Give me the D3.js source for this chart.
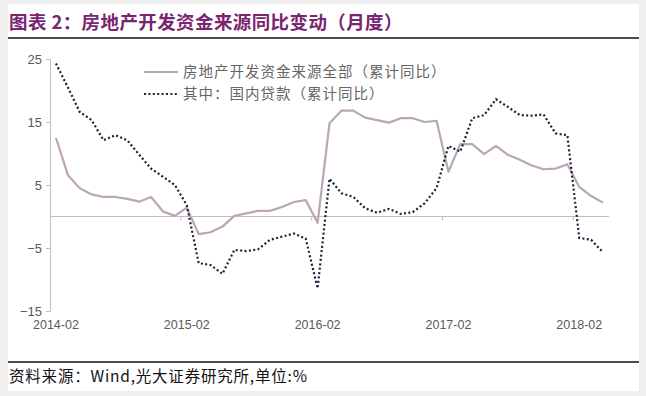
<!DOCTYPE html>
<html>
<head>
<meta charset="utf-8">
<script src="https://cdn.jsdelivr.net/npm/d3@7"></script>
<style>
  body { margin: 0; background: #efefef; }
  svg { display: block; }
</style>
</head>
<body>
<svg id="chart" width="646" height="396"></svg>
<script>
// categories: cumulative data, no January
var months = [
  "2014-02","2014-03","2014-04","2014-05","2014-06","2014-07","2014-08","2014-09","2014-10","2014-11","2014-12",
  "2015-02","2015-03","2015-04","2015-05","2015-06","2015-07","2015-08","2015-09","2015-10","2015-11","2015-12",
  "2016-02","2016-03","2016-04","2016-05","2016-06","2016-07","2016-08","2016-09","2016-10","2016-11","2016-12",
  "2017-02","2017-03","2017-04","2017-05","2017-06","2017-07","2017-08","2017-09","2017-10","2017-11","2017-12",
  "2018-02","2018-03","2018-04"
];

var totalFunds = [12.5, 6.6, 4.5, 3.5, 3.1, 3.1, 2.8, 2.35, 3.1, 0.8, 0.1,
  1.4, -2.8, -2.5, -1.6, 0.1, 0.5, 0.9, 0.9, 1.5, 2.3, 2.6,
  -1.0, 14.8, 16.8, 16.8, 15.7, 15.3, 14.9, 15.6, 15.6, 15.0, 15.2,
  7.1, 11.5, 11.5, 9.9, 11.2, 9.8, 9.0, 8.1, 7.5, 7.6, 8.3,
  4.7, 3.25, 2.2];

var domesticLoans = [24.3, 20.5, 16.6, 15.3, 12.1, 12.9, 12.1, 9.8, 7.6, 6.3, 5.0,
  1.8, -7.4, -7.7, -9.1, -5.3, -5.5, -5.2, -3.7, -3.2, -2.7, -3.5,
  -11.4, 6.0, 3.7, 3.1, 1.3, 0.6, 1.2, 0.4, 0.7, 2.1, 4.5,
  11.2, 10.3, 15.6, 16.1, 18.6, 17.4, 16.1, 16.0, 16.2, 13.2, 12.9,
  -3.4, -3.7, -5.7];

var yTicks = [25, 15, 5, -5, -15];
var xLabels = ["2014-02", "2015-02", "2016-02", "2017-02", "2018-02"];

var seriesNames = ["房地产开发资金来源全部（累计同比）", "其中：国内贷款（累计同比）"];
var titleText = "图表 2：房地产开发资金来源同比变动（月度）";
var sourceText = "资料来源：Wind,光大证券研究所,单位:%";

var svg = d3.select("#chart");
var cjk = "'Noto Sans CJK SC', sans-serif",
    latin = "'Liberation Sans', Arial, sans-serif";

// white panel
svg.append("rect")
  .attr("x", 8).attr("y", 4)
  .attr("width", 631).attr("height", 387)
  .attr("fill", "#ffffff");

// title
svg.append("text")
  .attr("x", 9).attr("y", 29)
  .attr("font-family", cjk)
  .attr("font-size", "18.5px")
  .attr("font-weight", "bold")
  .attr("letter-spacing", "0.4px")
  .attr("fill", "#7a2472")
  .text(titleText);

svg.append("line")
  .attr("x1", 8).attr("x2", 639)
  .attr("y1", 38).attr("y2", 38)
  .attr("stroke", "#111").attr("stroke-width", 1.6);

// footer
svg.append("line")
  .attr("x1", 8).attr("x2", 639)
  .attr("y1", 362).attr("y2", 362)
  .attr("stroke", "#111").attr("stroke-width", 1.6);

svg.append("text")
  .attr("x", 9).attr("y", 382)
  .attr("font-family", cjk)
  .attr("font-size", "15.5px")
  .attr("letter-spacing", "0.8px")
  .attr("fill", "#111")
  .text(sourceText);

// scales
var x = d3.scaleBand().domain(months).range([50, 609]);
var y = d3.scaleLinear().domain([-15, 25]).range([311, 59]);
var cx = function (i) { return x(months[i]) + x.bandwidth() / 2; };

// y axis
var yAxis = d3.axisLeft(y).tickValues(yTicks).tickSize(4).tickPadding(4);
var gy = svg.append("g").attr("transform", "translate(50,0)").call(yAxis);
gy.select(".domain").attr("stroke", "#bfbfbf");
gy.selectAll(".tick line").attr("stroke", "#bfbfbf");
gy.selectAll(".tick text")
  .attr("font-family", latin).attr("font-size", "13px").attr("fill", "#595959");

// zero line with category ticks
svg.append("line")
  .attr("x1", 50).attr("x2", 609)
  .attr("y1", y(0)).attr("y2", y(0))
  .attr("stroke", "#bfbfbf").attr("stroke-width", 1);

svg.selectAll(".xtick")
  .data(xLabels.slice(1))
  .enter().append("line")
  .attr("class", "xtick")
  .attr("x1", function (d) { return x(d); })
  .attr("x2", function (d) { return x(d); })
  .attr("y1", y(0)).attr("y2", y(0) + 4)
  .attr("stroke", "#bfbfbf");

svg.selectAll(".xlab")
  .data(xLabels)
  .enter().append("text")
  .attr("class", "xlab")
  .attr("x", function (d) { return x(d) + x.bandwidth() / 2; })
  .attr("y", 329)
  .attr("text-anchor", "middle")
  .attr("font-family", latin).attr("font-size", "12.5px").attr("fill", "#595959")
  .text(function (d) { return d; });

// lines
var line = d3.line()
  .x(function (d, i) { return cx(i); })
  .y(function (d) { return y(d); });

svg.append("path")
  .datum(totalFunds)
  .attr("d", line)
  .attr("fill", "none")
  .attr("stroke", "#bba6b6")
  .attr("stroke-width", 2.2)
  .attr("stroke-linejoin", "round");

svg.append("path")
  .datum(domesticLoans)
  .attr("d", line)
  .attr("fill", "none")
  .attr("stroke", "#1e1e38")
  .attr("stroke-width", 2.2)
  .attr("stroke-dasharray", "2,2.4");

// legend
var legend = svg.append("g");
legend.append("line")
  .attr("x1", 144).attr("x2", 178).attr("y1", 72).attr("y2", 72)
  .attr("stroke", "#bba6b6").attr("stroke-width", 2.2);
legend.append("line")
  .attr("x1", 144).attr("x2", 178).attr("y1", 94).attr("y2", 94)
  .attr("stroke", "#1e1e38").attr("stroke-width", 2.2)
  .attr("stroke-dasharray", "2,2.4");
legend.selectAll("text")
  .data(seriesNames)
  .enter().append("text")
  .attr("x", 183)
  .attr("y", function (d, i) { return 77 + i * 22; })
  .attr("font-family", cjk).attr("font-size", "14.5px")
  .attr("letter-spacing", "1px").attr("fill", "#666")
  .text(function (d) { return d; });
</script>
</body>
</html>
